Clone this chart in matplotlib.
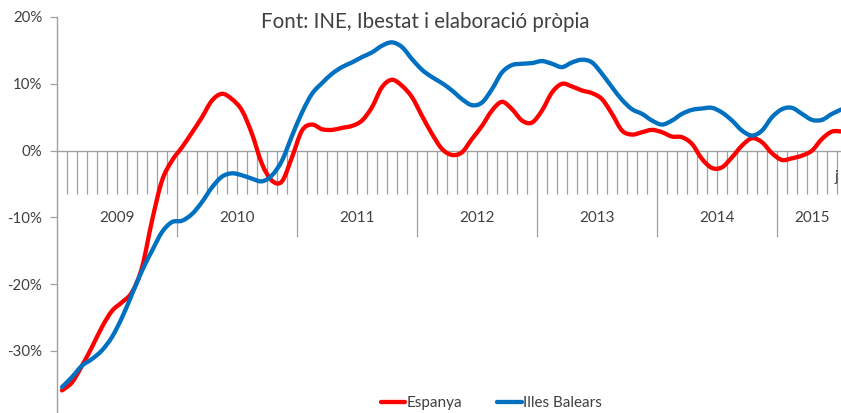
import matplotlib
matplotlib.use("Agg")
import matplotlib.pyplot as plt
from matplotlib.path import Path
from matplotlib.patches import PathPatch
from matplotlib.lines import Line2D

plt.rcParams['font.family'] = ['Lato', 'DejaVu Sans']

# Monthly series, Jan 2009 .. Jul 2015 (% change)
espanya = [-35.9, -34.7, -32.2, -29.4, -26.4, -24.0, -22.7, -21.2, -17.5, -10.5, -4.5, -1.5,
           0.5, 2.7, 5.0, 7.5, 8.5, 7.7, 6.0, 2.5, -2.0, -4.5, -4.6, -1.0,
           3.0, 3.9, 3.2, 3.1, 3.4, 3.7, 4.5, 6.5, 9.5, 10.6, 9.7, 8.0,
           5.2, 2.5, 0.25, -0.65, -0.25, 1.75, 3.7, 6.0, 7.3, 6.2, 4.5, 4.2,
           6.0, 8.7, 10.0, 9.6, 9.0, 8.6, 7.7, 5.5, 3.0, 2.4, 2.75, 3.1,
           2.75, 2.1, 2.0, 1.0, -1.25, -2.6, -2.5, -1.0, 0.75, 1.85, 1.25, -0.4,
           -1.4, -1.15, -0.75, 0.0, 1.75, 2.85, 2.85]
illes_balears = [-35.4, -33.9, -32.2, -31.2, -29.9, -27.9, -25.0, -21.5, -18.0, -15.0, -12.2, -10.7,
                 -10.5, -9.5, -7.7, -5.5, -3.9, -3.4, -3.7, -4.2, -4.6, -3.7, -1.5, 2.2,
                 5.7, 8.5, 10.1, 11.5, 12.5, 13.2, 14.0, 14.7, 15.7, 16.2, 15.5, 13.7,
                 12.1, 11.0, 10.1, 9.0, 7.7, 6.8, 7.2, 9.2, 11.7, 12.8, 13.0, 13.1,
                 13.4, 13.0, 12.5, 13.2, 13.6, 13.2, 11.5, 9.5, 7.6, 6.2, 5.5, 4.5,
                 3.9, 4.5, 5.5, 6.1, 6.3, 6.4, 5.7, 4.5, 3.0, 2.25, 3.0, 5.0,
                 6.2, 6.4, 5.5, 4.6, 4.6, 5.5, 6.2]
years = ['2009', '2010', '2011', '2012', '2013', '2014', '2015']
months_per_year = [12, 12, 12, 12, 12, 12, 7]
y_ticks = [-30, -20, -10, 0, 10, 20]
y_tick_labels = ['-30%', '-20%', '-10%', '0%', '10%', '20%']
series_names = ['Espanya', 'Illes Balears']
colors = ['#FF0000', '#0070C0']
source_text = 'Font: INE, Ibestat i elaboració pròpia'

GRAY = '#A0A0A0'
TXT = '#404040'


def smooth_path(xs, ys):
    n = len(xs)
    verts = [(xs[0], ys[0])]
    codes = [Path.MOVETO]
    for k in range(n - 1):
        p0 = k - 1 if k > 0 else k
        p3 = k + 2 if k + 2 < n else k + 1
        c1 = (xs[k] + (xs[k + 1] - xs[p0]) / 6.0, ys[k] + (ys[k + 1] - ys[p0]) / 6.0)
        c2 = (xs[k + 1] - (xs[p3] - xs[k]) / 6.0, ys[k + 1] - (ys[p3] - ys[k]) / 6.0)
        verts += [c1, c2, (xs[k + 1], ys[k + 1])]
        codes += [Path.CURVE4] * 3
    return Path(verts, codes)


W, H = 841, 413
fig = plt.figure(figsize=(W / 100, H / 100), dpi=100)
ax = fig.add_axes([57 / W, 1 - 417.8 / H, 790 / W, 400.8 / H])
n = len(espanya)
xs = list(range(n))
ax.set_xlim(-0.5, n - 0.5)
ax.set_ylim(-40, 20)

for vals, c in zip([espanya, illes_balears], colors):
    patch = PathPatch(smooth_path(xs, vals), fill=False, edgecolor=c, lw=3.1,
                      capstyle='round', joinstyle='round', zorder=3)
    ax.add_patch(patch)

for s in ['top', 'right']:
    ax.spines[s].set_visible(False)
ax.spines['bottom'].set_position(('data', 0))
ax.spines['left'].set_color(GRAY)
ax.spines['bottom'].set_color(GRAY)
ax.spines['left'].set_linewidth(1.0)
ax.spines['bottom'].set_linewidth(1.0)

# x ticks: month boundaries (minor) and year boundaries (major)
bounds = []
acc = 0
for m in months_per_year[:-1]:
    acc += m
    bounds.append(acc - 0.5)
minor = [i - 0.5 for i in range(1, n) if (i - 0.5) not in bounds]
ax.set_xticks(bounds)
ax.set_xticks(minor, minor=True)
ax.tick_params(axis='x', which='major', direction='out', length=62, width=0.9,
               color=GRAY, labelbottom=False)
ax.tick_params(axis='x', which='minor', direction='out', length=31, width=0.9,
               color=GRAY, labelbottom=False)

ax.set_yticks(y_ticks)
ax.set_yticklabels(y_tick_labels)
ax.tick_params(axis='y', direction='out', length=4.7, width=0.9, color=GRAY,
               pad=6.0, labelsize=10.8, labelcolor=TXT)

start = -0.5
for yr, m in zip(years, months_per_year):
    ax.text(start + m / 2.0, -10.1, yr, ha='center', va='center', fontsize=11, color=TXT)
    start += m

ax.text(77.3, -4.0, 'j', ha='left', va='center', fontsize=11, color=TXT)

fig.text(425 / W, 1 - 22.5 / H, source_text, ha='center', va='center', fontsize=14.8, color=TXT)

handles = [Line2D([0], [0], color=c, lw=3.1, solid_capstyle='round') for c in colors]
fig.legend(handles, series_names, loc='center', bbox_to_anchor=(491.5 / W, 1 - 403 / H),
           ncol=2, frameon=False, fontsize=11, handlelength=1.6, handletextpad=0.1,
           columnspacing=2.3, borderpad=0, labelcolor=TXT)

fig.savefig('out.png', dpi=100)
